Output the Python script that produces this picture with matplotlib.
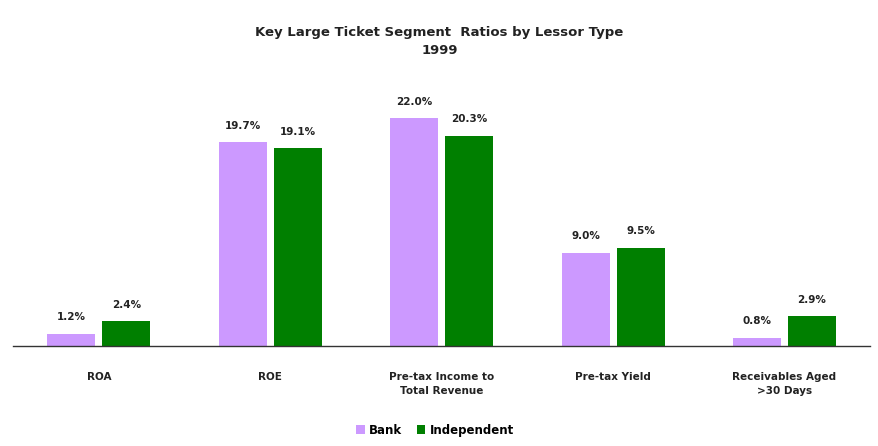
import numpy as np
import matplotlib.pyplot as plt

categories = ["ROA", "ROE", "Pre-tax Income to\nTotal Revenue", "Pre-tax Yield",
              "Receivables Aged\n>30 Days"]
bank = [1.2, 19.7, 22.0, 9.0, 0.8]
independent = [2.4, 19.1, 20.3, 9.5, 2.9]

plt.rcParams["font.family"] = ["DejaVu Sans"]
txt = "#222222"

fig = plt.figure(figsize=(8.79, 4.46), dpi=100)
ax = fig.add_axes([0.015, 0.224, 0.975, 0.574])

x = np.arange(len(categories))
w = 0.28
b1 = ax.bar(x - 0.16, bank, w, color="#CC99FF", label="Bank")
b2 = ax.bar(x + 0.16, independent, w, color="#007F00", label="Independent")

for bars, vals in ((b1, bank), (b2, independent)):
    for r, v in zip(bars, vals):
        ax.text(r.get_x() + r.get_width() / 2, v + 1.1, f"{v:.1f}%",
                ha="center", va="bottom", fontsize=7.5, fontweight="bold",
                color=txt)

ax.set_xlim(-0.5, len(categories) - 0.5)
ax.set_ylim(0, 24.7)
ax.set_yticks([])
ax.set_xticks(x)
ax.set_xticklabels(categories, fontsize=7.5, fontweight="bold", color=txt,
                   linespacing=1.4)
ax.tick_params(axis="x", length=0, pad=19)
for s in ("top", "right", "left"):
    ax.spines[s].set_visible(False)
ax.spines["bottom"].set_color("#333333")
ax.spines["bottom"].set_linewidth(1.0)

fig.text(0.5, 0.92, "Key Large Ticket Segment  Ratios by Lessor Type", ha="center",
         fontsize=9.5, fontweight="bold", color=txt)
fig.text(0.5, 0.88, "1999", ha="center", fontsize=9.5, fontweight="bold", color=txt)

fig.legend(loc="lower center", bbox_to_anchor=(0.495, -0.003), ncol=2, frameon=False,
           handlelength=0.7, handleheight=0.7, handletextpad=0.4,
           columnspacing=1.2, prop={"weight": "bold", "size": 8.5})

fig.savefig("out.png", dpi=100)
